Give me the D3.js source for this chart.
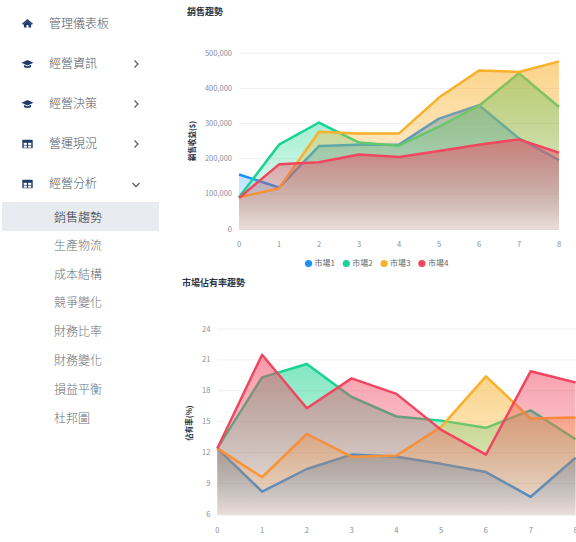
<!DOCTYPE html>
<html><head><meta charset="utf-8">
<script src="https://cdn.jsdelivr.net/npm/d3@7"></script>
<style>
body{margin:0;background:#fff;}
svg{display:block;font-family:"Noto Sans CJK TC","Noto Sans",sans-serif;}
</style>
</head><body><svg id="c" width="576" height="542"></svg>
<script>
// ---------- data ----------
const menuItems = ["管理儀表板","經營資訊","經營決策","營運現況","經營分析"];
const menuIcons = ["home","cap","cap","table","table"];
const menuArrows = ["","right","right","right","down"];
const subItems = ["銷售趨勢","生產物流","成本結構","競爭變化","財務比率","財務變化","損益平衡","杜邦圖"];
const markets = ["市場1","市場2","市場3","市場4"];
const colors = ["#1890ff","#19d390","#f9b02b","#f0465f"];
const fadeOpacity = [0.05,0.05,0.08,0.12];
const xCats = [0,1,2,3,4,5,6,7,8];
const sales1 = [155000,118000,236000,240000,240000,314000,352000,258000,196000];
const sales2 = [90000,240000,303000,246000,237000,291000,351000,443000,347000];
const sales3 = [90000,116000,277000,272000,272000,374000,451000,447000,477000];
const sales4 = [88000,184000,190000,212000,205000,222000,240000,255000,217000];
const share1 = [12.4,8.2,10.4,11.8,11.6,10.9,10.1,7.7,11.5];
const share2 = [12.4,19.3,20.6,17.4,15.5,15.1,14.4,16.1,13.3];
const share3 = [12.4,9.6,13.8,11.6,11.7,14.5,19.4,15.3,15.4];
const share4 = [12.4,21.5,16.3,19.2,17.7,14.2,11.8,19.9,18.8];
const salesTicks = [0,100000,200000,300000,400000,500000];
const shareTicks = [6,9,12,15,18,21,24];
const chartTitles = ["銷售趨勢","市場佔有率趨勢"];
const axisTitles = ["銷售收益($)","佔有率(%)"];

const svg = d3.select("#c");
const defs = svg.append("defs");

// ---------- sidebar ----------
const side = svg.append("g");
side.append("rect").attr("x",2).attr("y",202).attr("width",157).attr("height",29).attr("fill","#e8ebef");
const navy = "#1f3a6a";
function icon(g, type, cx, cy){
  if(type==="home"){
    g.append("path").attr("fill",navy)
      .attr("d",`M${cx-5.5},${cy+0.3} L${cx},${cy-4.5} L${cx+5.5},${cy+0.3} L${cx+4.3},${cy+1.3} L${cx},${cy-2.6} L${cx-4.3},${cy+1.3} Z`);
    g.append("path").attr("fill",navy)
      .attr("d",`M${cx-3.6},${cy+0.6} L${cx},${cy-2.4} L${cx+3.6},${cy+0.6} L${cx+3.6},${cy+4} L${cx+1},${cy+4} L${cx+1},${cy+1.6} L${cx-1},${cy+1.6} L${cx-1},${cy+4} L${cx-3.6},${cy+4} Z`);
  } else if(type==="cap"){
    g.append("path").attr("fill",navy)
      .attr("d",`M${cx-6},${cy-1.2} L${cx},${cy-4} L${cx+6},${cy-1.2} L${cx},${cy+1.6} Z`);
    g.append("path").attr("fill",navy)
      .attr("d",`M${cx-3.6},${cy+0.8} L${cx},${cy+2.5} L${cx+3.6},${cy+0.8} L${cx+3.6},${cy+3} Q${cx},${cy+5} ${cx-3.6},${cy+3} Z`);
  } else {
    g.append("rect").attr("x",cx-5.2).attr("y",cy-4.3).attr("width",10.4).attr("height",8.6).attr("rx",0.8).attr("fill",navy);
    [[-3.8,-1.2],[0.6,-1.2],[-3.8,1.6],[0.6,1.6]].forEach(([dx,dy])=>{
      g.append("rect").attr("x",cx+dx).attr("y",cy+dy).attr("width",3.2).attr("height",2.1).attr("fill","#fff");
    });
  }
}
const menuY = [23.5,64,104,144,184];
menuItems.forEach((t,i)=>{
  const y = menuY[i];
  icon(side, menuIcons[i], 27.5, y);
  side.append("text").attr("x",49).attr("y",y+4.3).attr("font-size",12).attr("font-weight",300)
    .attr("fill","#50555f").text(t);
  if(menuArrows[i]==="right"){
    side.append("path").attr("d",`M${134.5},${y-3.5} L${138},${y} L${134.5},${y+3.5}`)
      .attr("fill","none").attr("stroke","#5a5f68").attr("stroke-width",1.3);
  } else if(menuArrows[i]==="down"){
    side.append("path").attr("d",`M${132.5},${y-1} L${136},${y+2.5} L${139.5},${y-1}`)
      .attr("fill","none").attr("stroke","#5a5f68").attr("stroke-width",1.3);
  }
});
const subY = [218,245.5,274.5,303,332,361,390,419];
subItems.forEach((t,i)=>{
  side.append("text").attr("x",54).attr("y",subY[i]+4.3).attr("font-size",12).attr("font-weight",300)
    .attr("fill", i===0 ? "#2f333a" : "#6a6f78").text(t);
});

// ---------- charts ----------
function drawChart(cfg){
  const g = svg.append("g");
  const x = d3.scaleLinear().domain([0,8]).range(cfg.xr);
  const y = d3.scaleLinear().domain(cfg.yd).range(cfg.yr);
  g.append("text").attr("x",cfg.titleX).attr("y",cfg.titleY).attr("font-size",9).attr("font-weight","bold")
    .attr("fill","#2d3446").text(cfg.title);
  g.selectAll(".grid").data(cfg.ticks.slice(1)).join("line")
    .attr("x1",cfg.xr[0]).attr("x2",cfg.gridEnd).attr("y1",d=>y(d)).attr("y2",d=>y(d))
    .attr("stroke","#ececec").attr("stroke-width",0.8);
  g.selectAll(".yl").data(cfg.ticks).join("text")
    .attr("x",cfg.xr[0]-7).attr("y",d=>y(d)+2.6).attr("text-anchor","end")
    .attr("font-size",7.5).attr("fill","#8a8e99").text(cfg.fmt);
  g.append("text").attr("transform",`translate(${cfg.atX},${cfg.atY}) rotate(-90)`)
    .attr("text-anchor","middle").attr("font-size",7.5).attr("font-weight","bold").attr("fill","#2d3446")
    .text(cfg.axisTitle);
  const bottom = cfg.yr[0];
  cfg.series.forEach((vals,i)=>{
    const id = cfg.id+"g"+i;
    const gr = defs.append("linearGradient").attr("id",id).attr("x1",0).attr("y1",0).attr("x2",0).attr("y2",1);
    gr.append("stop").attr("offset",0).attr("stop-color",colors[i]).attr("stop-opacity",0.55);
    gr.append("stop").attr("offset",1).attr("stop-color",colors[i]).attr("stop-opacity",fadeOpacity[i]);
    const pts = xCats.map((c,k)=>[c,vals[k]]);
    const area = d3.area().x(d=>x(d[0])).y0(bottom).y1(d=>y(d[1]));
    const line = d3.line().x(d=>x(d[0])).y(d=>y(d[1]));
    g.append("path").attr("d",area(pts)).attr("fill",`url(#${id})`);
    g.append("path").attr("d",line(pts)).attr("fill","none").attr("stroke",colors[i])
      .attr("stroke-width",2.5).attr("stroke-linejoin","round");
  });
  g.append("line").attr("x1",cfg.xr[0]).attr("x2",cfg.gridEnd).attr("y1",bottom+0.5).attr("y2",bottom+0.5)
    .attr("stroke","#dcdcdc").attr("stroke-width",1);
  g.selectAll(".xl").data(xCats).join("text")
    .attr("x",d=>x(d)).attr("y",cfg.xlY).attr("text-anchor","middle")
    .attr("font-size",7.5).attr("fill","#8a8e99").text(d=>d);
}

drawChart({
  id:"s", title:chartTitles[0], titleX:187, titleY:14.5,
  xr:[239,559], gridEnd:559, yd:[0,500000], yr:[229,53.3], ticks:salesTicks,
  fmt:d3.format(","), axisTitle:axisTitles[0], atX:194.5, atY:141, xlY:246.8,
  series:[sales1,sales2,sales3,sales4]
});

const lg = svg.append("g");
markets.forEach((m,i)=>{
  const cx = 308.5 + i*37.8;
  lg.append("circle").attr("cx",cx).attr("cy",263.5).attr("r",3.6).attr("fill",colors[i]);
  lg.append("text").attr("x",cx+6).attr("y",266.4).attr("font-size",8).attr("fill","#666").text(m);
});

drawChart({
  id:"m", title:chartTitles[1], titleX:182, titleY:285.5,
  xr:[217.3,575.5], gridEnd:600, yd:[6,24], yr:[514.3,329], ticks:shareTicks,
  fmt:d=>d, axisTitle:axisTitles[1], atX:191.5, atY:423, xlY:533,
  series:[share1,share2,share3,share4]
});
</script>
</body></html>
